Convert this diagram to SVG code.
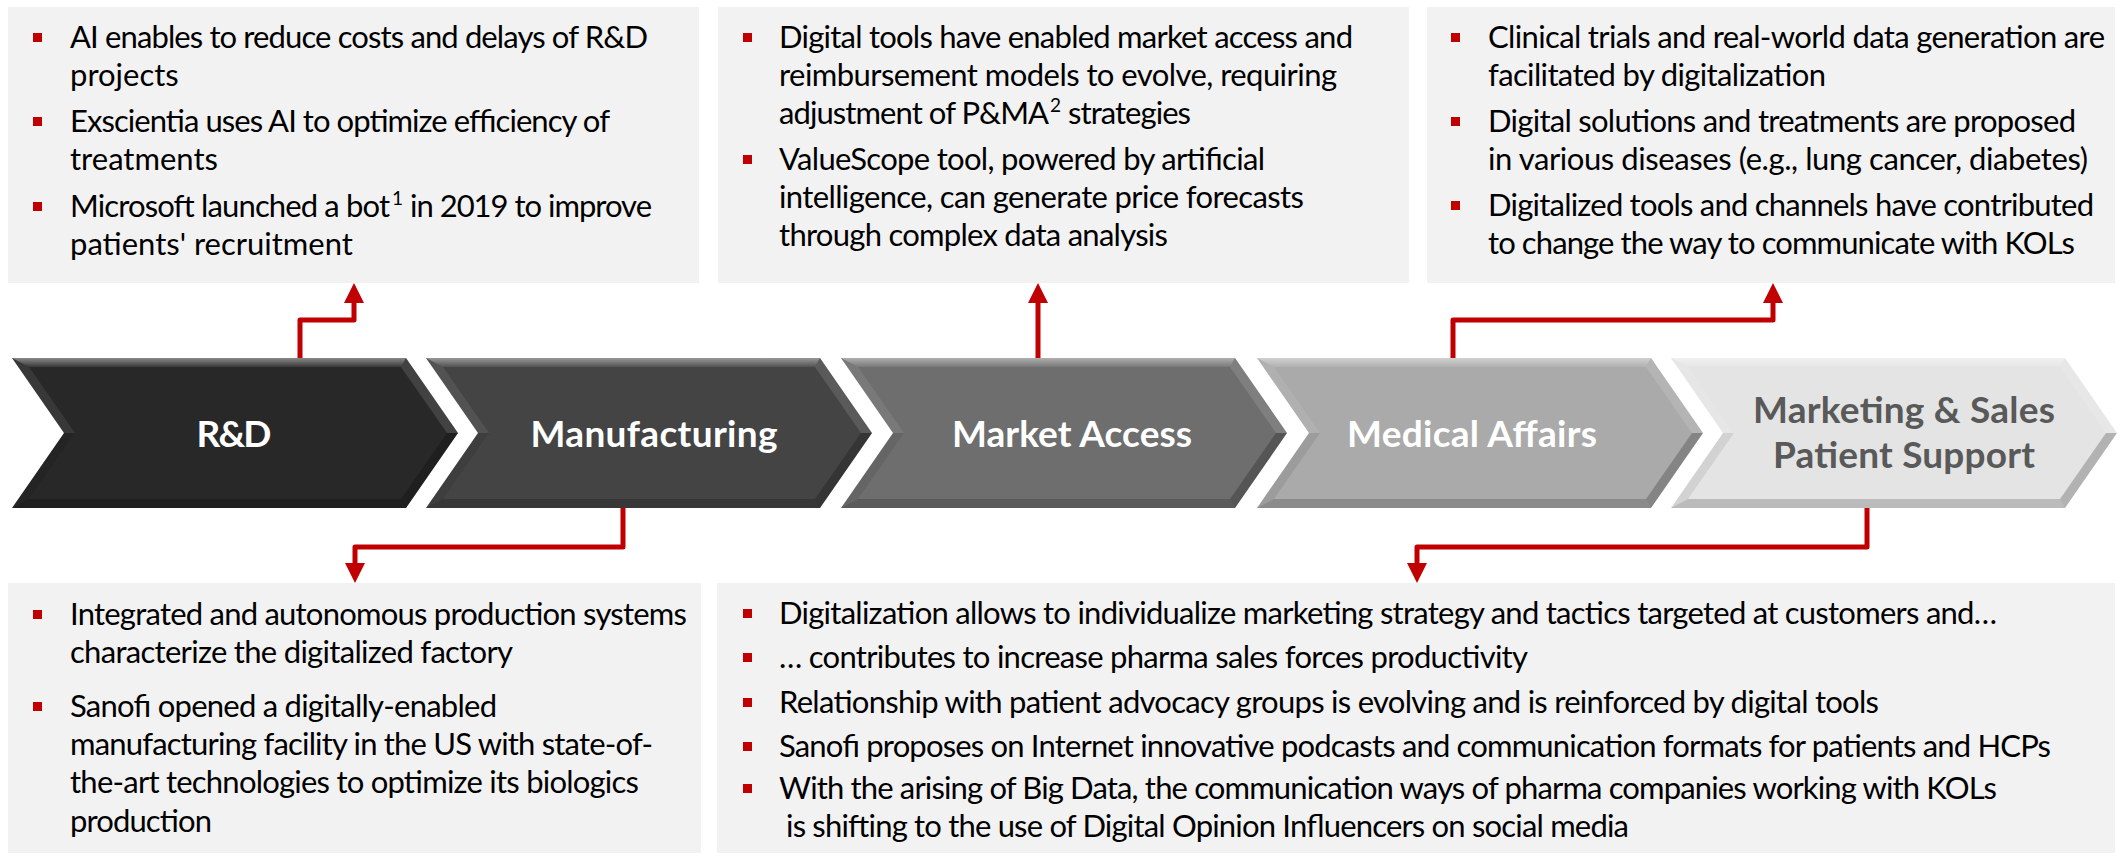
<svg xmlns="http://www.w3.org/2000/svg" xmlns:xlink="http://www.w3.org/1999/xlink" width="2123" height="857" viewBox="0 0 2123 857">
<style>
.box{fill:#f2f2f2}
.t{font-family:Lato,"Liberation Sans",sans-serif;font-size:31px;fill:#000}
.sup{font-family:Lato,"Liberation Sans",sans-serif;font-size:19px;fill:#000}
.bl{fill:#c00000}
.lbl{font-family:Lato,"Liberation Sans",sans-serif;font-size:37px;font-weight:bold;fill:#fff;text-anchor:middle}
.lbl2{fill:#595959}
.conn{fill:none;stroke:#c00000;stroke-width:5;stroke-linejoin:round}
</style>
<defs>
<marker id="arr" markerUnits="userSpaceOnUse" viewBox="0 0 20 20" refX="1" refY="10" markerWidth="20" markerHeight="20" orient="auto">
<path d="M0,0 L20,10 L0,20 z" fill="#c00000"/>
</marker>
<linearGradient id="topg" x1="0" y1="0" x2="0" y2="1">
<stop offset="0" stop-color="#fff" stop-opacity="0.45"/>
<stop offset="1" stop-color="#fff" stop-opacity="0.08"/>
</linearGradient>
<polygon id="chev" points="0,358 394,358 446,433 394,508 0,508 52,433"/>
<g id="bevel">
<polygon points="0,358 394,358 389,367 17,367" fill="url(#topg)"/>
<polygon points="394,358 446,433 435,433 389,367" fill="#fff" fill-opacity="0.12"/>
<polygon points="446,433 394,508 389,499 435,433" fill="#000" fill-opacity="0.22"/>
<polygon points="394,508 0,508 17,499 389,499" fill="#000" fill-opacity="0.18"/>
<polygon points="0,508 52,433 63,433 17,499" fill="#000" fill-opacity="0.08"/>
<polygon points="52,433 0,358 17,367 63,433" fill="#fff" fill-opacity="0.08"/>
</g>
</defs>

<g id="chevrons">
<g id="node-rd">
<use xlink:href="#chev" transform="translate(12,0)" fill="#282828"/>
<use xlink:href="#bevel" transform="translate(12,0)"/>
<text class="lbl" x="234" y="447" textLength="75">R&amp;D</text>
</g>
<g id="node-manufacturing">
<use xlink:href="#chev" transform="translate(426,0)" fill="#444444"/>
<use xlink:href="#bevel" transform="translate(426,0)"/>
<text class="lbl" x="654" y="447" textLength="247">Manufacturing</text>
</g>
<g id="node-market-access">
<use xlink:href="#chev" transform="translate(841,0)" fill="#6e6e6e"/>
<use xlink:href="#bevel" transform="translate(841,0)"/>
<text class="lbl" x="1072" y="447" textLength="240">Market Access</text>
</g>
<g id="node-medical-affairs">
<use xlink:href="#chev" transform="translate(1257,0)" fill="#aaaaaa"/>
<use xlink:href="#bevel" transform="translate(1257,0)"/>
<text class="lbl" x="1472" y="447" textLength="250">Medical Affairs</text>
</g>
<g id="node-marketing">
<use xlink:href="#chev" transform="translate(1671,0)" fill="#e4e4e4"/>
<use xlink:href="#bevel" transform="translate(1671,0)"/>
<text class="lbl lbl2" x="1904" y="423" textLength="302">Marketing &amp; Sales</text>
<text class="lbl lbl2" x="1904" y="468" textLength="262">Patient Support</text>
</g>
</g>

<g id="box-rd">
<rect class="box" x="8" y="7" width="691" height="276"/>
<rect class="bl" x="33" y="33" width="9" height="9"/>
<rect class="bl" x="33" y="117" width="9" height="9"/>
<rect class="bl" x="33" y="202" width="9" height="9"/>
<text class="t" x="70" y="48" textLength="578">AI enables to reduce costs and delays of R&amp;D</text>
<text class="t" x="70" y="86">projects</text>
<text class="t" x="70" y="132" textLength="540">Exscientia uses AI to optimize efficiency of</text>
<text class="t" x="70" y="170">treatments</text>
<text class="t" x="70" y="217" textLength="320">Microsoft launched a bot</text>
<text class="sup" x="392" y="205">1</text>
<text class="t" x="410" y="217" textLength="242">in 2019 to improve</text>
<text class="t" x="70" y="255">patients' recruitment</text>
</g>

<g id="box-market-access">
<rect class="box" x="718" y="7" width="691" height="276"/>
<rect class="bl" x="743" y="33" width="9" height="9"/>
<rect class="bl" x="743" y="155" width="9" height="9"/>
<text class="t" x="779" y="48" textLength="574">Digital tools have enabled market access and</text>
<text class="t" x="779" y="86" textLength="558">reimbursement models to evolve, requiring</text>
<text class="t" x="779" y="124" textLength="270">adjustment of P&amp;MA</text>
<text class="sup" x="1050" y="112">2</text>
<text class="t" x="1068" y="124" textLength="123">strategies</text>
<text class="t" x="779" y="170" textLength="486">ValueScope tool, powered by artificial</text>
<text class="t" x="779" y="208" textLength="525">intelligence, can generate price forecasts</text>
<text class="t" x="779" y="246" textLength="389">through complex data analysis</text>
</g>

<g id="box-medical-affairs">
<rect class="box" x="1427" y="7" width="688" height="276"/>
<rect class="bl" x="1451" y="33" width="9" height="9"/>
<rect class="bl" x="1451" y="117" width="9" height="9"/>
<rect class="bl" x="1451" y="201" width="9" height="9"/>
<text class="t" x="1488" y="48" textLength="617">Clinical trials and real-world data generation are</text>
<text class="t" x="1488" y="86" textLength="338">facilitated by digitalization</text>
<text class="t" x="1488" y="132" textLength="588">Digital solutions and treatments are proposed</text>
<text class="t" x="1488" y="170" textLength="600">in various diseases (e.g., lung cancer, diabetes)</text>
<text class="t" x="1488" y="216" textLength="606">Digitalized tools and channels have contributed</text>
<text class="t" x="1488" y="254" textLength="587">to change the way to communicate with KOLs</text>
</g>

<g id="box-manufacturing">
<rect class="box" x="8" y="583" width="693" height="270"/>
<rect class="bl" x="33" y="610" width="9" height="9"/>
<rect class="bl" x="33" y="702" width="9" height="9"/>
<text class="t" x="70" y="625" textLength="617">Integrated and autonomous production systems</text>
<text class="t" x="70" y="663" textLength="443">characterize the digitalized factory</text>
<text class="t" x="70" y="717" textLength="427">Sanofi opened a digitally-enabled</text>
<text class="t" x="70" y="755" textLength="583">manufacturing facility in the US with state-of-</text>
<text class="t" x="70" y="793" textLength="569">the-art technologies to optimize its biologics</text>
<text class="t" x="70" y="832" textLength="142">production</text>
</g>

<g id="box-marketing">
<rect class="box" x="717" y="583" width="1398" height="270"/>
<rect class="bl" x="743" y="609" width="9" height="9"/>
<rect class="bl" x="743" y="653" width="9" height="9"/>
<rect class="bl" x="743" y="698" width="9" height="9"/>
<rect class="bl" x="743" y="742" width="9" height="9"/>
<rect class="bl" x="743" y="784" width="9" height="9"/>
<text class="t" x="779" y="624" textLength="1218">Digitalization allows to individualize marketing strategy and tactics targeted at customers and…</text>
<text class="t" x="779" y="668" textLength="749">… contributes to increase pharma sales forces productivity</text>
<text class="t" x="779" y="713" textLength="1100">Relationship with patient advocacy groups is evolving and is reinforced by digital tools</text>
<text class="t" x="779" y="757" textLength="1272">Sanofi proposes on Internet innovative podcasts and communication formats for patients and HCPs</text>
<text class="t" x="779" y="799" textLength="1218">With the arising of Big Data, the communication ways of pharma companies working with KOLs</text>
<text class="t" x="786" y="837" textLength="843">is shifting to the use of Digital Opinion Influencers on social media</text>
</g>

<g id="connectors">
<path class="conn" d="M300,358 V320 H354 V302" marker-end="url(#arr)"/>
<path class="conn" d="M1038,358 V302" marker-end="url(#arr)"/>
<path class="conn" d="M1453,358 V320 H1773 V302" marker-end="url(#arr)"/>
<path class="conn" d="M623,508 V547 H355 V564" marker-end="url(#arr)"/>
<path class="conn" d="M1867,508 V547 H1417 V564" marker-end="url(#arr)"/>
</g>
</svg>
